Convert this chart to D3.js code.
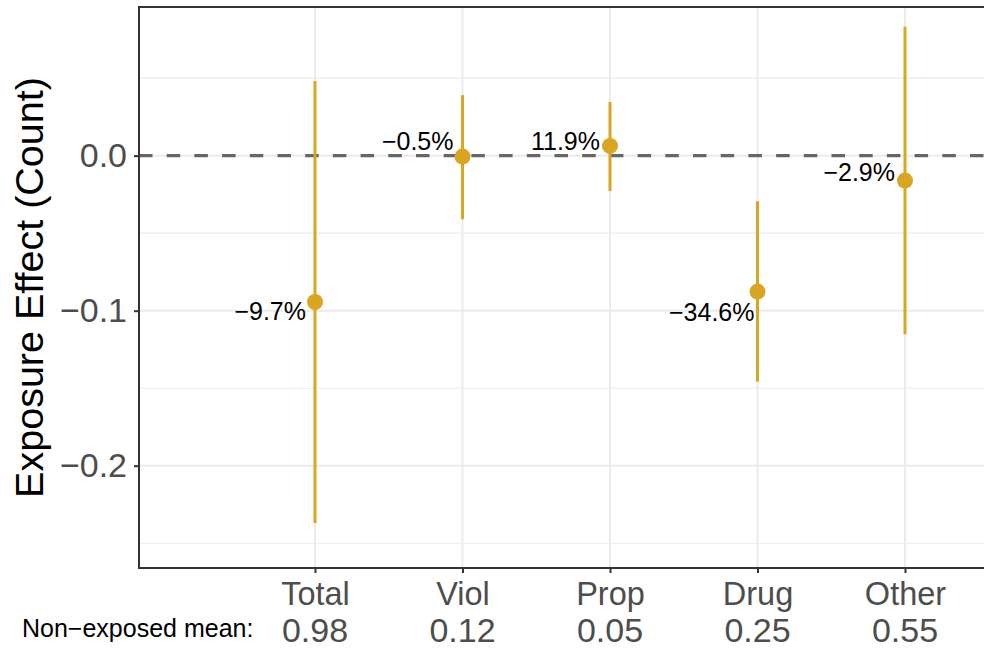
<!DOCTYPE html>
<html>
<head>
<meta charset="utf-8">
<script src="https://cdn.jsdelivr.net/npm/d3@7"></script>
<style>
  html, body { margin: 0; padding: 0; background: #ffffff; }
  svg { display: block; font-family: "Liberation Sans", Arial, Helvetica, sans-serif; }
</style>
</head>
<body>
<svg id="chart" width="984" height="649"></svg>
<script>
// Offence categories and their estimated exposure effects (counts)
const categories   = ["Total", "Viol", "Prop", "Drug", "Other"];
const estimates    = [-0.0944, -0.0006, 0.0063, -0.0877, -0.0161];
const ciLower      = [-0.237, -0.041, -0.0228, -0.1458, -0.1152];
const ciUpper      = [0.0482, 0.039, 0.0346, -0.0294, 0.0832];
const pctLabels    = ["−9.7%", "−0.5%", "11.9%", "−34.6%", "−2.9%"];
const meanLabels   = ["0.98", "0.12", "0.05", "0.25", "0.55"];
const yMajorTicks  = [0, -0.1, -0.2];
const yMinorTicks  = [0.05, -0.05, -0.15, -0.25];

// Nudges for the percentage labels (pixels, relative to each point)
const labelNudgeX = [-9, -9, -10, -3, -10];
const labelNudgeY = [18, -7, 4, 29, 0];

const rows = categories.map((c, i) => ({
  cat: c, est: estimates[i], lo: ciLower[i], hi: ciUpper[i],
  pct: pctLabels[i], mean: meanLabels[i], dx: labelNudgeX[i], dy: labelNudgeY[i]
}));

const svg = d3.select("#chart");
const panel = { left: 139, top: 7, right: 1000, bottom: 568 };
const gold = "#DAA520";

const x = d3.scalePoint().domain(categories).range([315, 905]);
const y = d3.scaleLinear().domain([-0.266, 0.0959]).range([panel.bottom, panel.top]);

// Panel grid
const grid = svg.append("g");
grid.selectAll("line.minor").data(yMinorTicks).join("line")
  .attr("x1", panel.left).attr("x2", panel.right)
  .attr("y1", d => y(d)).attr("y2", d => y(d))
  .attr("stroke", "#ebebeb").attr("stroke-width", 1.1);
grid.selectAll("line.major").data(yMajorTicks).join("line")
  .attr("x1", panel.left).attr("x2", panel.right)
  .attr("y1", d => y(d)).attr("y2", d => y(d))
  .attr("stroke", "#ebebeb").attr("stroke-width", 2);
grid.selectAll("line.vert").data(categories).join("line")
  .attr("x1", d => x(d)).attr("x2", d => x(d))
  .attr("y1", panel.top).attr("y2", panel.bottom)
  .attr("stroke", "#ebebeb").attr("stroke-width", 2);

// Zero reference line
svg.append("line")
  .attr("x1", panel.left).attr("x2", panel.right)
  .attr("y1", y(0)).attr("y2", y(0))
  .attr("stroke", "#666666").attr("stroke-width", 3.2)
  .attr("stroke-dasharray", "13.5,14.2");

// Confidence intervals
svg.append("g").selectAll("line").data(rows).join("line")
  .attr("x1", d => x(d.cat)).attr("x2", d => x(d.cat))
  .attr("y1", d => y(d.lo)).attr("y2", d => y(d.hi))
  .attr("stroke", gold).attr("stroke-width", 3);

// Point estimates
svg.append("g").selectAll("circle").data(rows).join("circle")
  .attr("cx", d => x(d.cat)).attr("cy", d => y(d.est))
  .attr("r", 8).attr("fill", gold);

// Percentage change labels
svg.append("g").selectAll("text").data(rows).join("text")
  .attr("x", d => x(d.cat) + d.dx).attr("y", d => y(d.est) + d.dy)
  .attr("text-anchor", "end")
  .attr("font-size", 25).attr("fill", "#000000")
  .text(d => d.pct);

// Panel border (left, top, bottom)
const border = svg.append("g").attr("stroke", "#333333").attr("stroke-width", 2).attr("fill", "none");
border.append("line").attr("x1", panel.left).attr("x2", panel.left).attr("y1", panel.top).attr("y2", panel.bottom + 1);
border.append("line").attr("x1", panel.left - 1).attr("x2", panel.right).attr("y1", panel.top).attr("y2", panel.top);
border.append("line").attr("x1", panel.left - 1).attr("x2", panel.right).attr("y1", panel.bottom).attr("y2", panel.bottom);

// Y axis
const yAxis = svg.append("g")
  .attr("transform", `translate(${panel.left},0)`)
  .call(d3.axisLeft(y).tickValues(yMajorTicks).tickFormat(d3.format(".1f")).tickSize(5).tickPadding(7));
yAxis.select(".domain").remove();
yAxis.selectAll(".tick line").attr("stroke", "#333333").attr("stroke-width", 2);
yAxis.selectAll(".tick text")
  .attr("font-size", 34).attr("fill", "#4d4d4d")
  .attr("font-family", "Liberation Sans, Arial, sans-serif");

// X axis
const xAxis = svg.append("g")
  .attr("transform", `translate(0,${panel.bottom})`)
  .call(d3.axisBottom(x).tickSize(5).tickPadding(0));
xAxis.select(".domain").remove();
xAxis.selectAll(".tick line").attr("stroke", "#333333").attr("stroke-width", 2);
xAxis.selectAll(".tick text").remove();
xAxis.selectAll(".tick").append("text")
  .attr("y", 605 - panel.bottom)
  .attr("text-anchor", "middle")
  .attr("font-size", 32.5).attr("fill", "#4d4d4d")
  .text(d => d);

// Non-exposed means under each category
svg.append("g").selectAll("text").data(rows).join("text")
  .attr("x", d => x(d.cat)).attr("y", 642)
  .attr("text-anchor", "middle")
  .attr("font-size", 34).attr("fill", "#4d4d4d")
  .text(d => d.mean);
svg.append("text")
  .attr("x", 22).attr("y", 637)
  .attr("font-size", 25).attr("fill", "#000000")
  .text("Non−exposed mean:");

// Y axis title
svg.append("text")
  .attr("transform", `translate(43,${(panel.top + panel.bottom) / 2}) rotate(-90)`)
  .attr("text-anchor", "middle")
  .attr("font-size", 39.5).attr("fill", "#000000")
  .text("Exposure Effect (Count)");
</script>
</body>
</html>
